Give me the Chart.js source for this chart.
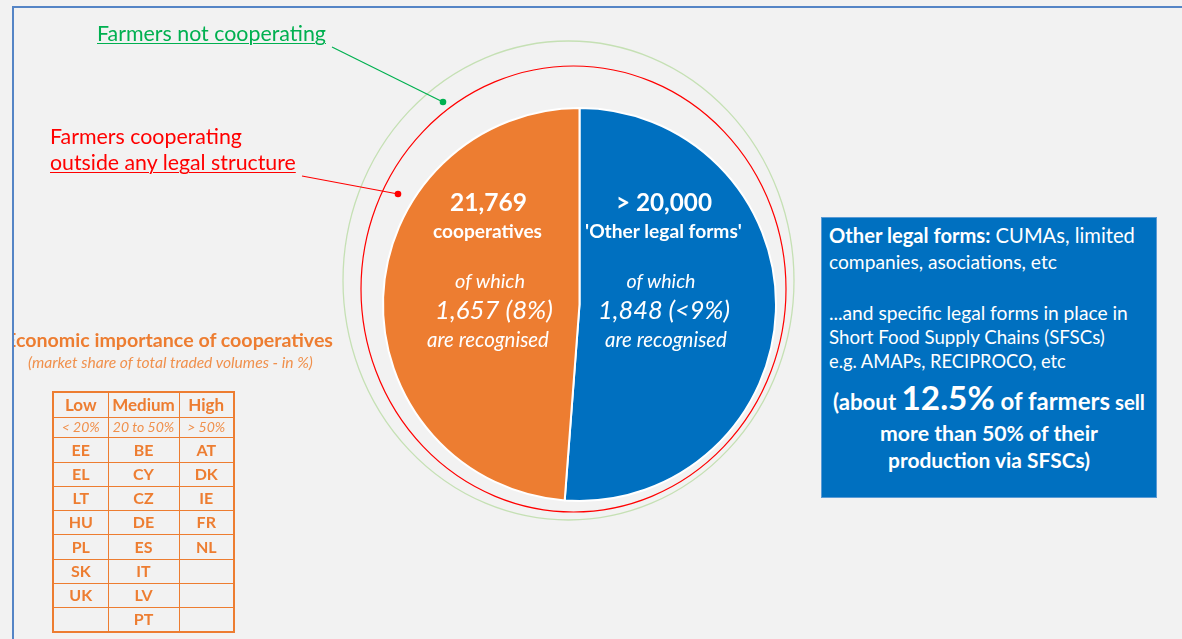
<!DOCTYPE html>
<html><head><meta charset="utf-8">
<script src="https://cdn.jsdelivr.net/npm/chart.js@4.4.1/dist/chart.umd.min.js"></script>
<style>
html,body{margin:0;padding:0;background:#f2f2f2;}
body{width:1182px;height:639px;overflow:hidden;position:relative;font-family:Lato,"Open Sans",sans-serif;}
#chartBox{position:absolute;left:0;top:0;width:1182px;height:639px;}
.frame-top{position:absolute;left:12px;top:6px;width:1170px;height:2px;background:#5585c6;}
.frame-left{position:absolute;left:12px;top:6px;width:2px;height:633px;background:#5585c6;}
.t{position:absolute;white-space:nowrap;line-height:1.2;}
#clipLeft{position:absolute;left:14px;top:0;width:400px;height:639px;overflow:hidden;}
#box{position:absolute;left:821px;top:217px;width:334px;height:279px;background:#0070c0;border:1px solid #5b9bd5;}
#tbl{position:absolute;left:52px;top:391px;border-collapse:collapse;border:2px solid #ed7d31;table-layout:fixed;}
#tbl td{border:1px solid #ed7d31;padding:0;text-align:center;color:#ed7d31;font-weight:700;font-size:16px;line-height:1;}
#tbl tr.hd td{font-size:17px;}
#tbl tr.sub td{font-weight:400;font-style:italic;font-size:14px;color:#f0904c;}
</style>
</head><body>
<div id="chartBox"><canvas id="c" width="1182" height="639"></canvas></div>
<div class="frame-top"></div>
<div class="frame-left"></div>
<div id="clipLeft"></div>
<div id="box"></div>
<table id="tbl"></table>
<script>
// ---------- data ----------
const categories = ["'Other legal forms'", "Cooperatives"];
const pieShares = [51.2, 48.8];               // share of the pie (%)
const sliceColors = ["#0070C0", "#ED7D31"];
const headlineNumbers = ["> 20,000", "21,769"];
const headlineLabels = ["'Other legal forms'", "cooperatives"];
const recognisedCounts = ["1,848 (<9%)", "1,657 (8%)"];
const ofWhichText = "of which";
const recognisedText = "are recognised";
const ringLabels = ["Farmers not cooperating", "Farmers cooperating", "outside any legal structure"];
const importanceTitle = "Economic importance of cooperatives";
const importanceSubtitle = "(market share of total traded volumes - in %)";
const importanceLevels = ["Low", "Medium", "High"];
const importanceRanges = ["< 20%", "20 to 50%", "> 50%"];
const lowCountries = ["EE", "EL", "LT", "HU", "PL", "SK", "UK"];
const mediumCountries = ["BE", "CY", "CZ", "DE", "ES", "IT", "LV", "PT"];
const highCountries = ["AT", "DK", "IE", "FR", "NL"];
const boxLines = [
  [{t:"Other legal forms:", b:1}, {t:" CUMAs, limited"}],
  [{t:"companies, asociations, etc"}],
  [{t:"...and specific legal forms in place in"}],
  [{t:"Short Food Supply Chains (SFSCs)"}],
  [{t:"e.g. AMAPs, RECIPROCO, etc"}],
  [{t:"(about ", b:1}, {t:"12.5%", b:1, s:1.5}, {t:" of farmers", b:1, s:1.08}, {t:" sell", b:1, s:0.92}],
  [{t:"more than 50% of their", b:1}],
  [{t:"production via SFSCs)", b:1}]
];

// ---------- text helper ----------
function place(parent, parts, o) {
  const d = document.createElement('div');
  d.className = 't';
  d.style.fontSize = '20px';
  d.style.color = o.color || '#fff';
  if (o.italic) d.style.fontStyle = 'italic';
  if (o.underline) { d.style.textDecoration = 'underline'; d.style.textUnderlineOffset = '2px'; d.style.textDecorationThickness = '1px'; }
  parts.forEach(p => {
    const s = document.createElement('span');
    s.textContent = p.t;
    s.style.fontWeight = (p.b || o.bold) ? '700' : '400';
    if (p.s) s.style.fontSize = p.s + 'em';
    d.appendChild(s);
  });
  const mk = document.createElement('span');
  mk.style.cssText = 'display:inline-block;width:0;height:0;vertical-align:baseline;';
  d.appendChild(mk);
  parent.appendChild(d);
  const w0 = d.getBoundingClientRect().width;
  const fs = 20 * o.w / w0;
  d.style.fontSize = fs + 'px';
  const w = d.getBoundingClientRect().width;
  const b = mk.offsetTop;
  const px = o.px || 0;
  let left = o.x - px;
  if (o.align === 'center') left -= w / 2;
  else if (o.align === 'right') left -= w;
  d.style.left = left + 'px';
  d.style.top = (o.y - b) + 'px';
}

// ---------- pie ----------
const ringsPlugin = {
  id: 'rings',
  afterDraw(chart) {
    const arc = chart.getDatasetMeta(0).data[0];
    const cx = arc.x, cy = arc.y;
    const ctx = chart.ctx;
    ctx.save();
    // outer ring: farmers not cooperating
    ctx.strokeStyle = '#c5e0b4'; ctx.lineWidth = 1.3;
    ctx.beginPath(); ctx.ellipse(cx - 11, cy - 24, 225.5, 239.5, 0, 0, Math.PI * 2); ctx.stroke();
    // inner ring: farmers cooperating outside legal structure
    ctx.strokeStyle = '#ff0000'; ctx.lineWidth = 1.2;
    ctx.beginPath(); ctx.ellipse(cx - 6, cy - 15.5, 212.5, 223, 0, 0, Math.PI * 2); ctx.stroke();
    // leader lines
    ctx.strokeStyle = '#00b050'; ctx.lineWidth = 1.2;
    ctx.beginPath(); ctx.moveTo(332, 47); ctx.lineTo(443, 102); ctx.stroke();
    ctx.fillStyle = '#00b050'; ctx.beginPath(); ctx.arc(443, 102, 3.3, 0, Math.PI * 2); ctx.fill();
    ctx.strokeStyle = '#ff0000';
    ctx.beginPath(); ctx.moveTo(302, 176); ctx.lineTo(398, 194); ctx.stroke();
    ctx.fillStyle = '#ff0000'; ctx.beginPath(); ctx.arc(398, 194, 3.3, 0, Math.PI * 2); ctx.fill();
    ctx.restore();
  }
};

const chart = new Chart(document.getElementById('c'), {
  type: 'pie',
  data: {
    labels: categories,
    datasets: [{ data: pieShares, backgroundColor: sliceColors, borderColor: '#ffffff', borderWidth: 2 }]
  },
  options: {
    responsive: false,
    animation: false,
    layout: { padding: { left: 382, right: 405, top: 107, bottom: 137 } },
    plugins: { legend: { display: false }, tooltip: { enabled: false } }
  },
  plugins: [ringsPlugin]
});

// ---------- slice texts ----------
const arc0 = chart.getDatasetMeta(0).data[0];
const CX = arc0.x, CY = arc0.y;
const sliceLayout = [
  { dx: [84.5, 84, 81.5, 84.5, 86.5], w: [96, 157, 69, 132, 122] },
  { dx: [-91, -92, -89.5, -85.5, -91.5], w: [77, 109, 70, 118, 122] }
];
const lineDy = [-93.5, -66.5, -16.5, 14.5, 42.5];
categories.forEach((c, i) => {
  const L = sliceLayout[i];
  const texts = [headlineNumbers[i], headlineLabels[i], ofWhichText, recognisedCounts[i], recognisedText];
  texts.forEach((t, k) => {
    place(document.body, [{ t }], {
      x: CX + L.dx[k], y: CY + lineDy[k], w: L.w[k], align: 'center',
      bold: k < 2, italic: k >= 2, color: '#ffffff'
    });
  });
});

// ---------- ring labels ----------
place(document.body, [{ t: ringLabels[0] }], { x: 97, y: 41, w: 229, color: '#00b050', underline: true });
place(document.body, [{ t: ringLabels[1] }], { x: 50, y: 144, w: 192, color: '#ff0000' });
place(document.body, [{ t: ringLabels[2] }], { x: 50, y: 170, w: 246, color: '#ff0000', underline: true });

// ---------- importance title ----------
const clip = document.getElementById('clipLeft');
place(clip, [{ t: importanceTitle }], { x: 333, px: 14, y: 347, w: 328, align: 'right', bold: true, color: '#ed7d31' });
place(document.body, [{ t: importanceSubtitle }], { x: 28, y: 368, w: 285, italic: true, color: '#f0904c' });

// ---------- table ----------
const tbl = document.getElementById('tbl');
const colW = [55, 71, 55];
const rowH = [25, 20, 25, 24, 24, 24, 25, 24, 24, 25];
const cols = [lowCountries, mediumCountries, highCountries];
const nRows = Math.max(...cols.map(c => c.length));
const cg = document.createElement('colgroup');
colW.forEach(w => { const cc = document.createElement('col'); cc.style.width = w + 'px'; cg.appendChild(cc); });
tbl.appendChild(cg);
function addRow(vals, cls, h) {
  const tr = document.createElement('tr');
  if (cls) tr.className = cls;
  tr.style.height = h + 'px';
  vals.forEach(v => { const td = document.createElement('td'); td.textContent = v; tr.appendChild(td); });
  tbl.appendChild(tr);
}
addRow(importanceLevels, 'hd', rowH[0]);
addRow(importanceRanges, 'sub', rowH[1]);
for (let r = 0; r < nRows; r++) addRow(cols.map(c => c[r] || ''), '', rowH[r + 2]);

// ---------- right box ----------
const boxBase = [243, 269, 320, 344, 368, 410, 441, 468];
const boxW = [306, 228, 299, 276, 237, 312, 218, 202];
boxLines.forEach((parts, i) => {
  const centered = i >= 5;
  place(document.body, parts, { x: centered ? 989 : 829, y: boxBase[i], w: boxW[i], align: centered ? 'center' : 'left', color: '#ffffff' });
});
</script>
</body></html>
